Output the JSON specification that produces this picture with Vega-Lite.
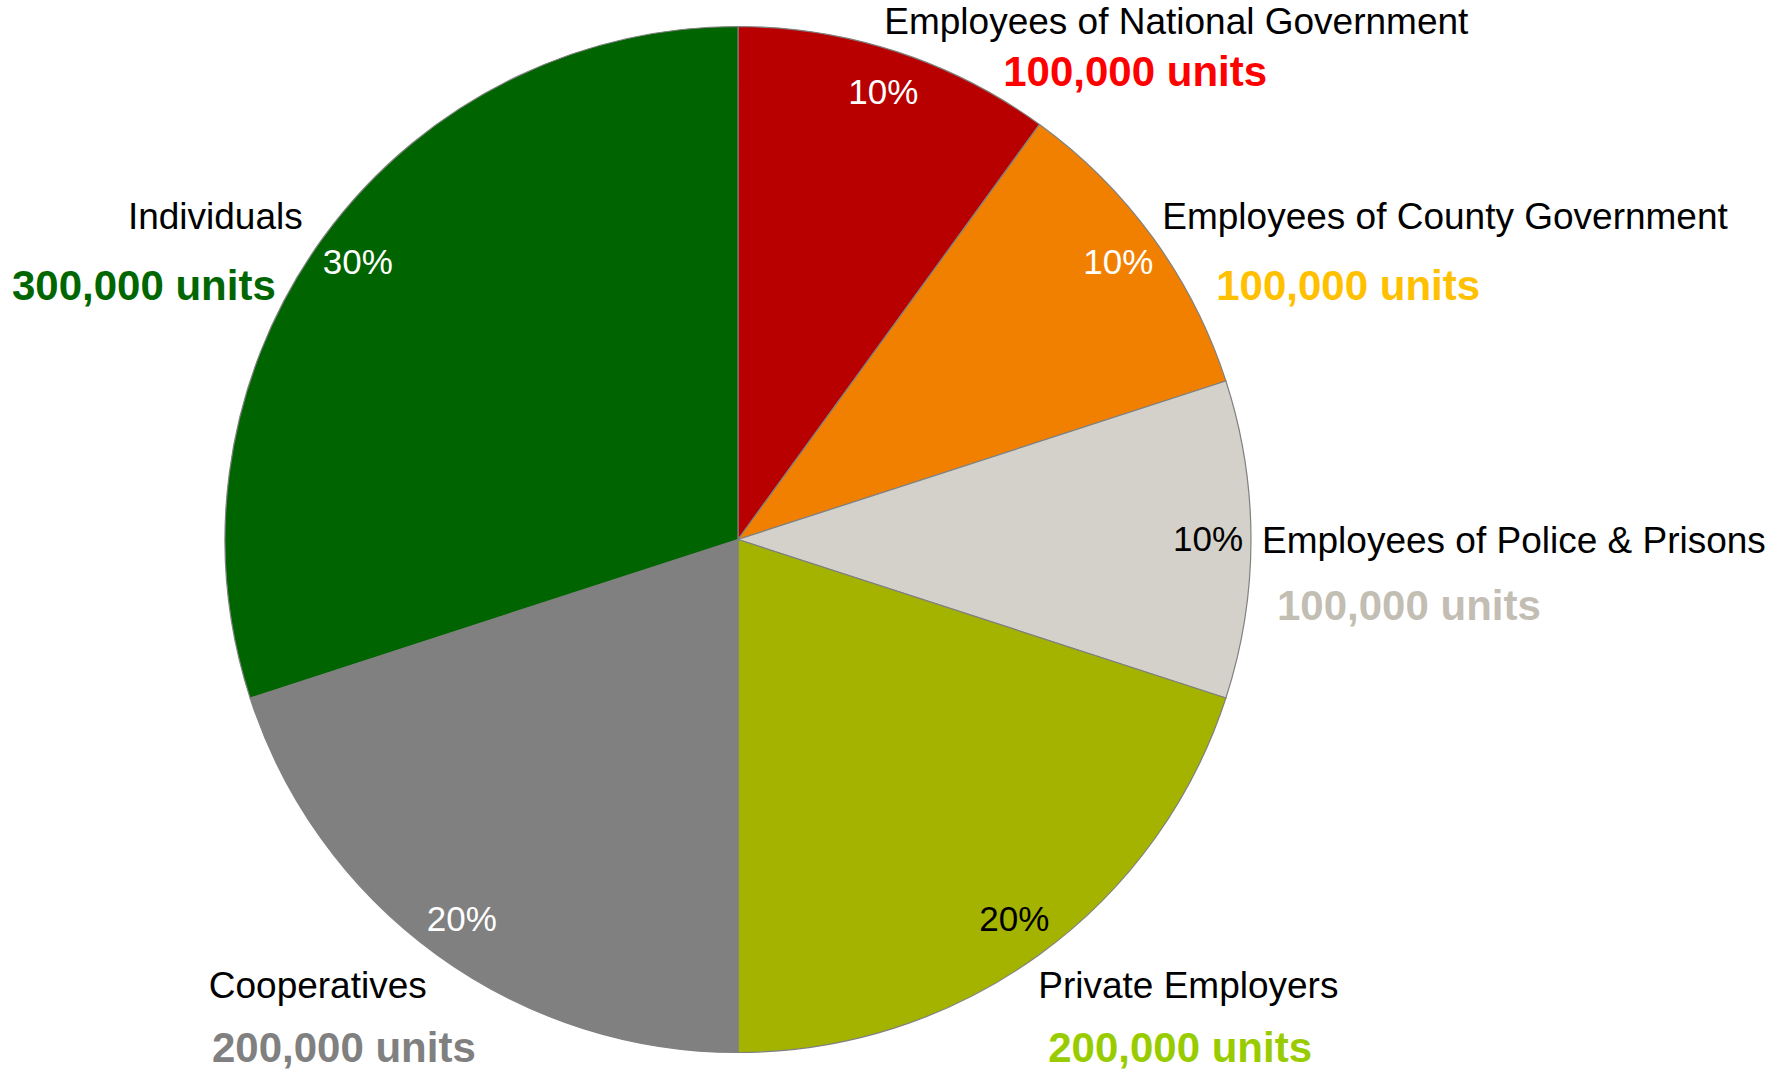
{
  "$schema": "https://vega.github.io/schema/vega-lite/v6.json",
  "width": 1476,
  "height": 1079,
  "autosize": "none",
  "padding": {"left": 0, "top": 0, "right": 299, "bottom": 0},
  "background": "white",
  "config": {"view": {"stroke": null}, "font": "Liberation Sans"},
  "data": {
    "values": [
      {"rank": 1, "name": "Employees of National Government", "value": 100000, "pct": 0.1},
      {"rank": 2, "name": "Employees of County Government", "value": 100000, "pct": 0.1},
      {"rank": 3, "name": "Employees of Police & Prisons", "value": 100000, "pct": 0.1},
      {"rank": 4, "name": "Private Employers", "value": 200000, "pct": 0.2},
      {"rank": 5, "name": "Cooperatives", "value": 200000, "pct": 0.2},
      {"rank": 6, "name": "Individuals", "value": 300000, "pct": 0.3}
    ]
  },
  "transform": [
    {"calculate": "format(datum.value, ',') + ' units'", "as": "units"}
  ],
  "encoding": {
    "theta": {"field": "value", "type": "quantitative", "stack": true},
    "order": {"field": "rank", "type": "quantitative", "sort": "ascending"}
  },
  "layer": [
    {
      "mark": {"type": "arc", "outerRadius": 513, "stroke": "#808080", "strokeWidth": 1.2},
      "encoding": {
        "color": {
          "field": "name",
          "type": "nominal",
          "legend": null,
          "scale": {
            "domain": ["Employees of National Government", "Employees of County Government", "Employees of Police & Prisons", "Private Employers", "Cooperatives", "Individuals"],
            "range": ["#b80000", "#f28000", "#d4d1ca", "#a3b300", "#808080", "#006400"]
          }
        }
      }
    },
    {
      "mark": {"type": "text", "radius": 470, "fontSize": 35, "align": "center", "baseline": "middle"},
      "encoding": {
        "detail": {"field": "name"},
        "text": {"field": "pct", "type": "quantitative", "format": ".0%"},
        "color": {
          "condition": {"test": "datum.name == 'Employees of Police & Prisons' || datum.name == 'Private Employers'", "value": "black"},
          "value": "white"
        }
      }
    },
    {
      "mark": {
        "type": "text", "radius": 538, "fontSize": 37, "align": "left", "baseline": "middle", "color": "black",
        "dx": {"expr": "datum.rank == 1 ? -20 : datum.rank == 2 ? -11 : datum.rank == 3 ? -14 : -16"},
        "dy": {"expr": "datum.rank == 3 ? 2 : datum.rank == 4 ? 12 : -5"}
      },
      "encoding": {
        "detail": {"field": "name"},
        "text": {
          "condition": {"test": "datum.rank <= 4", "field": "name"},
          "value": ""
        }
      }
    },
    {
      "mark": {
        "type": "text", "radius": 538, "fontSize": 37, "align": "right", "baseline": "middle", "color": "black",
        "dx": {"expr": "datum.rank == 5 ? 5 : 0"},
        "dy": {"expr": "datum.rank == 5 ? 12 : -5"}
      },
      "encoding": {
        "detail": {"field": "name"},
        "text": {
          "condition": {"test": "datum.rank > 4", "field": "name"},
          "value": ""
        }
      }
    },
    {
      "mark": {
        "type": "text", "radius": 538, "fontSize": 42, "fontWeight": "bold", "align": "left", "baseline": "middle",
        "dx": {"expr": "datum.rank == 1 ? 99 : datum.rank == 2 ? 43 : datum.rank == 3 ? 1 : -6"},
        "dy": {"expr": "datum.rank == 1 ? 45 : datum.rank == 2 ? 64 : datum.rank == 3 ? 67 : 74"}
      },
      "encoding": {
        "detail": {"field": "name"},
        "text": {
          "condition": {"test": "datum.rank <= 4", "field": "units"},
          "value": ""
        },
        "color": {
          "field": "name",
          "type": "nominal",
          "legend": null,
          "scale": {
            "domain": ["Employees of National Government", "Employees of County Government", "Employees of Police & Prisons", "Private Employers", "Cooperatives", "Individuals"],
            "range": ["#ff0000", "#ffc000", "#c3beb3", "#99cc00", "#808080", "#006600"]
          }
        }
      }
    },
    {
      "mark": {
        "type": "text", "radius": 538, "fontSize": 42, "fontWeight": "bold", "align": "right", "baseline": "middle",
        "dx": {"expr": "datum.rank == 5 ? 54 : -27"},
        "dy": {"expr": "datum.rank == 5 ? 74 : 64"}
      },
      "encoding": {
        "detail": {"field": "name"},
        "text": {
          "condition": {"test": "datum.rank > 4", "field": "units"},
          "value": ""
        },
        "color": {
          "field": "name",
          "type": "nominal",
          "legend": null,
          "scale": {
            "domain": ["Employees of National Government", "Employees of County Government", "Employees of Police & Prisons", "Private Employers", "Cooperatives", "Individuals"],
            "range": ["#ff0000", "#ffc000", "#c3beb3", "#99cc00", "#808080", "#006600"]
          }
        }
      }
    }
  ],
  "resolve": {"scale": {"color": "independent"}}
}
